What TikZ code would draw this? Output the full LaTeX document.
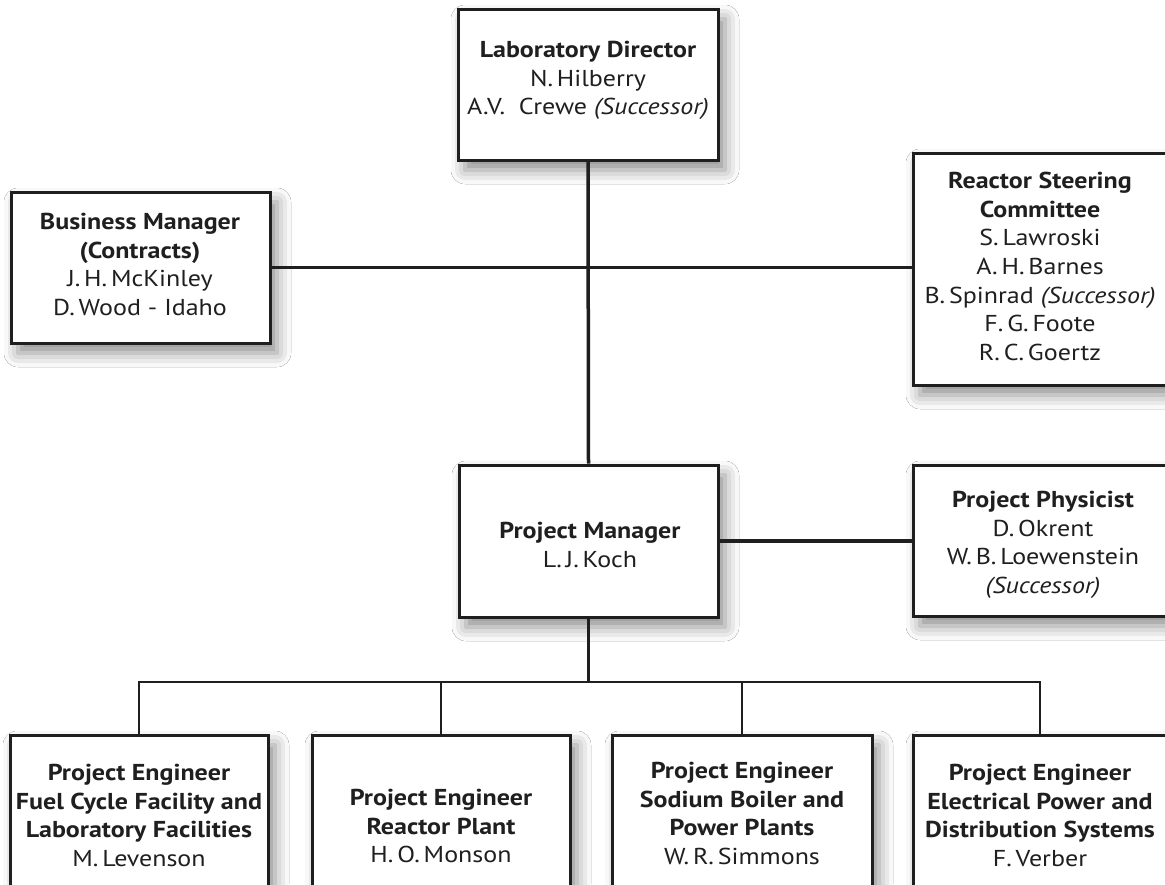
\documentclass[tikz,border=0pt]{standalone}
\usepackage{fontspec}
\setmainfont{PT Sans}[FakeStretch=1.13]
\usetikzlibrary{shadows.blur}
\begin{document}
\begin{tikzpicture}[x=1pt,y=-1pt,
  box/.style={draw=black!88, line width=3pt, fill=white, rectangle, inner sep=0pt,
    blur shadow={shadow xshift=7pt, shadow yshift=-10pt, shadow blur radius=14pt, shadow opacity=45}},
  lbl/.style={anchor=north, align=center, inner sep=0pt, font=\fontsize{23}{28.6}\selectfont, text=black!88},
  conn/.style={line width=3.5pt, draw=black!88},
  bar/.style={line width=2.7pt, draw=black!88}]
\useasboundingbox[fill=white] (0,0) rectangle (1165,884);

% boxes
\node[box, minimum width=260pt, minimum height=151pt] (LD) at (588,84.5) {};
\node[box, minimum width=259pt, minimum height=151pt] (BM) at (140.5,267.5) {};
\node[box, minimum width=254pt, minimum height=232pt] (RSC) at (1040,269) {};
\node[box, minimum width=259pt, minimum height=152pt] (PM) at (588.5,541) {};
\node[box, minimum width=254pt, minimum height=151pt] (PP) at (1040,540.5) {};
\node[box, minimum width=258pt, minimum height=151pt] (B1) at (139,810.5) {};
\node[box, minimum width=258pt, minimum height=151pt] (B2) at (441,810.5) {};
\node[box, minimum width=260pt, minimum height=151pt] (B3) at (742,810.5) {};
\node[box, minimum width=254pt, minimum height=151pt] (B4) at (1040,810.5) {};

% connectors
\coordinate (J) at (588.5,682);
\draw[conn] (LD.south) -- (PM.north);
\draw[conn] (BM.east) -- (RSC.west |- BM.east);
\draw[conn] (PM.east) -- (PP.west |- PM.east);
\draw[conn] (PM.south) -- (J);
\draw[bar] (B1.north) -- (B1.north |- J) -- (B4.north |- J) -- (B4.north);
\draw[bar] (B2.north) -- (B2.north |- J);
\draw[bar] (B3.north) -- (B3.north |- J);

% labels
\node[lbl] (tLD) at (588,41) {\textbf{Laboratory Director}\\N.\,Hilberry\\A.V.~ Crewe \textit{(Successor)}};
\node[lbl] (tBM) at (140,213) {\textbf{Business Manager}\\\textbf{(Contracts)}\\J.\,H.\,McKinley\\D.\,Wood - Idaho};
\node[lbl] (tRSC) at (1040,172) {\textbf{Reactor Steering}\\\textbf{Committee}\\S.\,Lawroski\\A.\,H.\,Barnes\\B.\,Spinrad \textit{(Successor)}\\F.\,G.\,Foote\\R.\,C.\,Goertz};
\node[lbl] (tPM) at (590,522) {\textbf{Project Manager}\\L.\,J.\,Koch};
\node[lbl] (tPP) at (1043,491) {\textbf{Project Physicist}\\D.\,Okrent\\W.\,B.\,Loewenstein\\\textit{(Successor)}};
\node[lbl] (tB1) at (139,764) {\textbf{Project Engineer}\\\textbf{Fuel Cycle Facility and}\\\textbf{Laboratory Facilities}\\M.\,Levenson};
\node[lbl] (tB2) at (441,789) {\textbf{Project Engineer}\\\textbf{Reactor Plant}\\H.\,O.\,Monson};
\node[lbl] (tB3) at (742,762) {\textbf{Project Engineer}\\\textbf{Sodium Boiler and}\\\textbf{Power Plants}\\W.\,R.\,Simmons};
\node[lbl] (tB4) at (1040,764) {\textbf{Project Engineer}\\\textbf{Electrical Power and}\\\textbf{Distribution Systems}\\F.\,Verber};
\end{tikzpicture}
\end{document}
